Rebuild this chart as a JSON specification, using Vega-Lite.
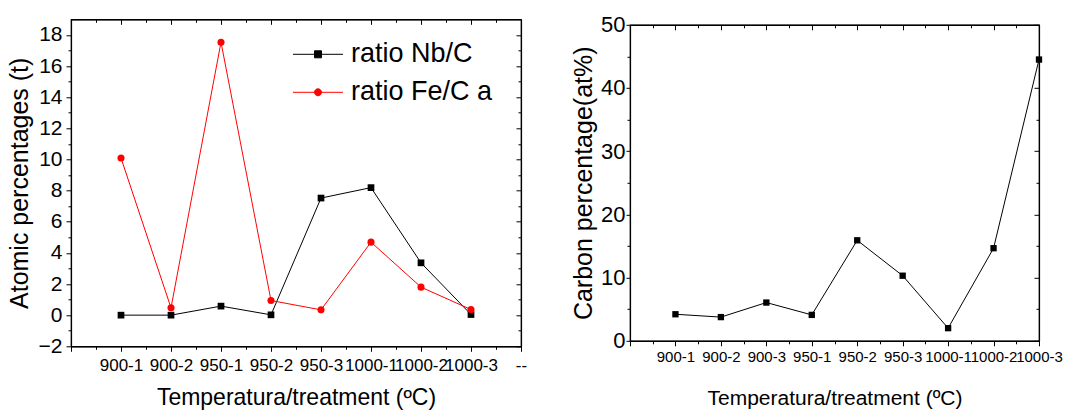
{
  "$schema": "https://vega.github.io/schema/vega-lite/v6.json",
  "background": "white",
  "padding": {"left": 6, "top": 12.3, "right": 5, "bottom": 0},
  "spacing": 109,
  "bounds": "flush",
  "align": "each",
  "center": {"row": true, "column": false},
  "config": {
    "font": "Liberation Sans",
    "view": {"stroke": "black", "strokeWidth": 1.2},
    "axis": {
      "domainColor": "black", "domainWidth": 1.2, "tickColor": "black", "labelColor": "black", "titleColor": "black",
      "grid": false, "labelFont": "Liberation Sans", "titleFont": "Liberation Sans", "titleFontWeight": "normal"
    }
  },
  "datasets": {
    "ratios": [
      {"i": 1, "cat": "900-1", "series": "ratio Nb/C", "value": 0.0},
      {"i": 2, "cat": "900-2", "series": "ratio Nb/C", "value": 0.0},
      {"i": 3, "cat": "950-1", "series": "ratio Nb/C", "value": 0.58},
      {"i": 4, "cat": "950-2", "series": "ratio Nb/C", "value": 0.02},
      {"i": 5, "cat": "950-3", "series": "ratio Nb/C", "value": 7.52},
      {"i": 6, "cat": "1000-1", "series": "ratio Nb/C", "value": 8.19},
      {"i": 7, "cat": "1000-2", "series": "ratio Nb/C", "value": 3.36},
      {"i": 8, "cat": "1000-3", "series": "ratio Nb/C", "value": 0.04},
      {"i": 1, "cat": "900-1", "series": "ratio Fe/C a", "value": 10.09},
      {"i": 2, "cat": "900-2", "series": "ratio Fe/C a", "value": 0.47},
      {"i": 3, "cat": "950-1", "series": "ratio Fe/C a", "value": 17.53},
      {"i": 4, "cat": "950-2", "series": "ratio Fe/C a", "value": 0.94},
      {"i": 5, "cat": "950-3", "series": "ratio Fe/C a", "value": 0.34},
      {"i": 6, "cat": "1000-1", "series": "ratio Fe/C a", "value": 4.69},
      {"i": 7, "cat": "1000-2", "series": "ratio Fe/C a", "value": 1.8},
      {"i": 8, "cat": "1000-3", "series": "ratio Fe/C a", "value": 0.36}
    ],
    "carbon": [
      {"i": 1, "cat": "900-1", "value": 4.2},
      {"i": 2, "cat": "900-2", "value": 3.75},
      {"i": 3, "cat": "900-3", "value": 6.05},
      {"i": 4, "cat": "950-1", "value": 4.1},
      {"i": 5, "cat": "950-2", "value": 15.9},
      {"i": 6, "cat": "950-3", "value": 10.3},
      {"i": 7, "cat": "1000-1", "value": 2.0},
      {"i": 8, "cat": "1000-2", "value": 14.65},
      {"i": 9, "cat": "1000-3", "value": 44.5}
    ]
  },
  "hconcat": [
    {
      "width": 450,
      "height": 327,
      "data": {"name": "ratios"},
      "layer": [
        {
          "mark": {"type": "line", "strokeWidth": 1},
          "encoding": {
            "x": {
              "field": "i", "type": "quantitative",
              "scale": {"domain": [0, 9], "nice": false, "zero": false},
              "axis": {
                "orient": "bottom",
                "values": [0, 0.5, 1, 1.5, 2, 2.5, 3, 3.5, 4, 4.5, 5, 5.5, 6, 6.5, 7, 7.5, 8, 8.5, 9],
                "labelExpr": "datum.value == 9 ? '--' : (datum.value % 1 == 0 && datum.value >= 1 ? ['','900-1','900-2','950-1','950-2','950-3','1000-1','1000-2','1000-3'][datum.value] : '')",
                "labelFontSize": 17, "labelPadding": 6, "labelOverlap": false, "labelFlush": false, "labelBound": false,
                "tickSize": {"condition": {"test": "datum.value % 1 == 0", "value": 5}, "value": 3},
                "title": "Temperatura/treatment (ºC)", "titleFontSize": 23, "titlePadding": 13
              }
            },
            "y": {
              "field": "value", "type": "quantitative",
              "scale": {"domain": [-2, 19], "nice": false, "zero": false},
              "axis": {
                "orient": "left",
                "values": [-2, -1, 0, 1, 2, 3, 4, 5, 6, 7, 8, 9, 10, 11, 12, 13, 14, 15, 16, 17, 18],
                "labelExpr": "datum.value % 2 == 0 ? datum.label : ''",
                "labelFontSize": 21, "labelPadding": 4,
                "tickSize": {"condition": {"test": "datum.value % 2 == 0", "value": 5}, "value": 3},
                "title": "Atomic percentages (t)", "titleFontSize": 25, "titlePadding": 6
              }
            },
            "color": {
              "field": "series", "type": "nominal",
              "scale": {"domain": ["ratio Nb/C", "ratio Fe/C a"], "range": ["#000000", "#ff0000"]},
              "legend": {
                "orient": "none", "legendX": 229, "legendY": 17, "title": null,
                "labelFontSize": 27, "labelFont": "Liberation Sans", "labelColor": "black",
                "symbolSize": 1225, "labelOffset": 15, "rowPadding": 7, "padding": 0,
                "symbolType": "M-1.43,0L1.43,0",
                "encode": {
                  "symbols": {
                    "update": {
                      "shape": {"signal": "datum.value === 'ratio Nb/C' ? 'M-1.43,0L1.43,0M-0.2,-0.2L0.2,-0.2L0.2,0.2L-0.2,0.2Z' : 'M-1.43,0L1.43,0M0.2,0A0.2,0.2,0,1,1,-0.2,0A0.2,0.2,0,1,1,0.2,0Z'"},
                      "fill": {"signal": "datum.value === 'ratio Nb/C' ? '#000000' : '#ff0000'"},
                      "stroke": {"signal": "datum.value === 'ratio Nb/C' ? '#000000' : '#ff0000'"},
                      "strokeWidth": {"value": 1},
                      "opacity": {"value": 1},
                      "fillOpacity": {"value": 1}
                    }
                  }
                }
              }
            }
          }
        },
        {
          "transform": [{"filter": "datum.series === 'ratio Nb/C'"}],
          "mark": {"type": "point", "filled": true, "shape": "square", "size": 45, "opacity": 1, "color": "#000000"},
          "encoding": {
            "x": {
              "field": "i", "type": "quantitative",
              "axis": {
                "orient": "top", "labels": false, "title": null,
                "values": [0, 0.5, 1, 1.5, 2, 2.5, 3, 3.5, 4, 4.5, 5, 5.5, 6, 6.5, 7, 7.5, 8, 8.5, 9],
                "tickSize": {"condition": {"test": "datum.value % 1 == 0", "value": -5}, "value": -3}
              }
            },
            "y": {
              "field": "value", "type": "quantitative",
              "axis": {
                "orient": "right", "labels": false, "title": null,
                "values": [-2, -1, 0, 1, 2, 3, 4, 5, 6, 7, 8, 9, 10, 11, 12, 13, 14, 15, 16, 17, 18],
                "tickSize": {"condition": {"test": "datum.value % 2 == 0", "value": -5}, "value": -3}
              }
            }
          }
        },
        {
          "transform": [{"filter": "datum.series === 'ratio Fe/C a'"}],
          "mark": {"type": "point", "filled": true, "shape": "circle", "size": 50, "opacity": 1, "color": "#ff0000"},
          "encoding": {
            "x": {"field": "i", "type": "quantitative", "axis": null},
            "y": {"field": "value", "type": "quantitative", "axis": null}
          }
        }
      ],
      "resolve": {"axis": {"x": "independent", "y": "independent"}}
    },
    {
      "width": 409,
      "height": 316,
      "data": {"name": "carbon"},
      "layer": [
        {
          "mark": {"type": "line", "strokeWidth": 1, "color": "black"},
          "encoding": {
            "x": {
              "field": "i", "type": "quantitative",
              "scale": {"domain": [0, 9], "nice": false, "zero": false},
              "axis": {
                "orient": "bottom",
                "values": [0, 0.5, 1, 1.5, 2, 2.5, 3, 3.5, 4, 4.5, 5, 5.5, 6, 6.5, 7, 7.5, 8, 8.5, 9],
                "labelExpr": "datum.value % 1 == 0 && datum.value >= 1 ? ['','900-1','900-2','900-3','950-1','950-2','950-3','1000-1','1000-2','1000-3'][datum.value] : ''",
                "labelFontSize": 15, "labelPadding": 4,
                "labelOverlap": false, "labelFlush": false, "labelBound": false,
                "tickSize": {"condition": {"test": "datum.value % 1 == 0", "value": 5}, "value": 3},
                "title": "Temperatura/treatment (ºC)", "titleFontSize": 21, "titlePadding": 23
              }
            },
            "y": {
              "field": "value", "type": "quantitative",
              "scale": {"domain": [0, 50], "nice": false, "zero": false},
              "axis": {
                "orient": "left",
                "values": [0, 5, 10, 15, 20, 25, 30, 35, 40, 45, 50],
                "labelExpr": "datum.value % 10 == 0 ? datum.label : ''",
                "labelFontSize": 22, "labelPadding": 1,
                "tickSize": {"condition": {"test": "datum.value % 10 == 0", "value": 4}, "value": 3},
                "title": "Carbon percentage(at%)", "titleFontSize": 25, "titlePadding": 4
              }
            }
          }
        },
        {
          "mark": {"type": "point", "filled": true, "shape": "square", "size": 40, "opacity": 1, "color": "black"},
          "encoding": {
            "x": {
              "field": "i", "type": "quantitative",
              "axis": {
                "orient": "top", "labels": false, "title": null,
                "values": [0, 0.5, 1, 1.5, 2, 2.5, 3, 3.5, 4, 4.5, 5, 5.5, 6, 6.5, 7, 7.5, 8, 8.5, 9],
                "tickSize": {"condition": {"test": "datum.value % 1 == 0", "value": -5}, "value": -3}
              }
            },
            "y": {
              "field": "value", "type": "quantitative",
              "axis": {
                "orient": "right", "labels": false, "title": null,
                "values": [0, 5, 10, 15, 20, 25, 30, 35, 40, 45, 50],
                "tickSize": {"condition": {"test": "datum.value % 10 == 0", "value": -5}, "value": -3}
              }
            }
          }
        }
      ],
      "resolve": {"axis": {"x": "independent", "y": "independent"}}
    }
  ]
}
